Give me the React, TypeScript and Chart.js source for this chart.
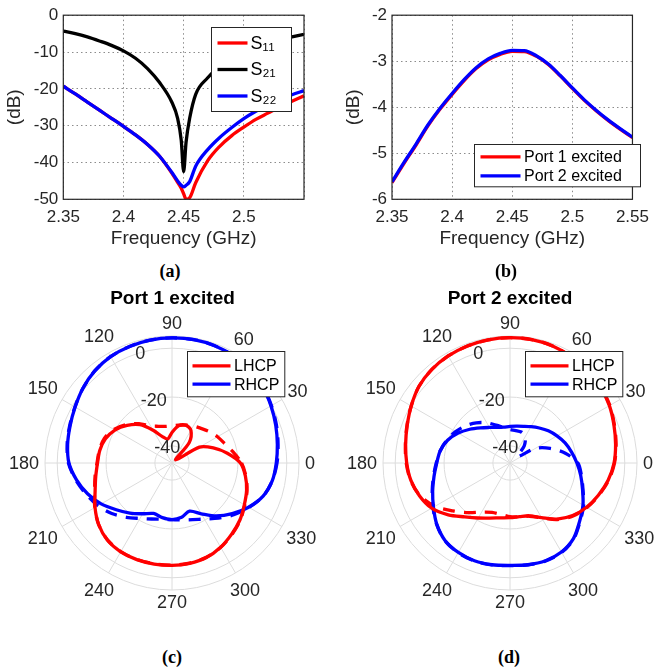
import React, { useEffect, useRef } from 'react';
import { Chart, registerables } from 'chart.js';

Chart.register(...registerables);

const FONT = "'Liberation Sans', Arial, Helvetica, sans-serif";
const TEXT = '#262626';
Chart.defaults.font.family = FONT;

// ---------- (a) S-parameters ----------
const FREQ_A = [2.35, 2.36, 2.37, 2.38, 2.39, 2.4, 2.41, 2.42, 2.43, 2.44, 2.445, 2.448, 2.45, 2.452, 2.455, 2.46, 2.47, 2.48, 2.49, 2.5, 2.51, 2.52, 2.53, 2.54, 2.55];
const S11 = [-19.3, -21.4, -23.6, -25.8, -28.0, -30.2, -32.5, -35.1, -38.3, -42.8, -45.4, -47.0, -48.5, -50.0, -49.6, -45.5, -39.5, -35.6, -32.7, -30.4, -28.3, -26.6, -24.9, -23.4, -21.9];
const S21 = [-4.3, -5.0, -5.9, -7.0, -8.2, -9.7, -11.7, -14.5, -18.3, -23.5, -28.0, -34.0, -42.5, -34.5, -28.0, -21.5, -17.0, -13.8, -11.5, -9.8, -8.5, -7.5, -6.6, -5.9, -5.2];
const S22 = [-19.3, -21.4, -23.6, -25.8, -28.0, -30.2, -32.5, -35.1, -38.3, -42.6, -45.0, -46.2, -46.6, -46.2, -45.2, -41.0, -36.5, -33.2, -30.5, -28.1, -26.1, -24.4, -22.9, -21.6, -20.5];
const A_X_TICKS = [2.35, 2.4, 2.45, 2.5, 2.55];
const A_X_LABELS = ['2.35', '2.4', '2.45', '2.5', ''];
const A_Y_TICKS = [-50, -40, -30, -20, -10, 0];
const A_Y_LABELS = ['-50', '-40', '-30', '-20', '-10', '0'];

// ---------- (b) ----------
const FREQ_B = [2.35, 2.36, 2.37, 2.38, 2.39, 2.4, 2.41, 2.42, 2.43, 2.44, 2.45, 2.46, 2.47, 2.48, 2.49, 2.5, 2.51, 2.52, 2.53, 2.54, 2.55];
const PORT1 = [-5.64, -5.22, -4.82, -4.4, -4.04, -3.72, -3.42, -3.16, -2.97, -2.85, -2.785, -2.79, -2.89, -3.07, -3.32, -3.59, -3.85, -4.08, -4.29, -4.48, -4.66];
const PORT2 = [-5.62, -5.2, -4.8, -4.38, -4.02, -3.7, -3.4, -3.14, -2.95, -2.83, -2.765, -2.77, -2.88, -3.06, -3.31, -3.58, -3.84, -4.07, -4.28, -4.47, -4.65];
const B_X_TICKS = [2.35, 2.4, 2.45, 2.5, 2.55];
const B_X_LABELS = ['2.35', '2.4', '2.45', '2.5', '2.55'];
const B_Y_TICKS = [-6, -5, -4, -3, -2];
const B_Y_LABELS = ['-6', '-5', '-4', '-3', '-2'];

// ---------- (c), (d) polar patterns ----------
const THETA = [0, 10, 20, 30, 40, 50, 60, 70, 80, 90, 100, 110, 120, 130, 140, 150, 160, 170, 180, 190, 200, 210, 220, 230, 240, 250, 260, 270, 280, 290, 300, 310, 320, 330, 340, 350];
const THETA_TICKS = [0, 30, 60, 90, 120, 150, 180, 210, 240, 270, 300, 330];
const R_TICKS = [-40, -20, 0];
const R_MIN = -47;
const R_MAX = 5;

const C_LHCP = [-19, -24, -29, -34, -45, -36, -31.5, -30.5, -31.5, -34.5, -37, -35.5, -31.5, -26.5, -23, -20, -18, -17, -16.5, -15.3, -13.5, -10.6, -7.8, -5.8, -5, -4.9, -5, -5.1, -5.3, -5.8, -7.2, -9, -10.7, -12.8, -14.5, -16.5];
const C_LHCP_DASH = [-18.5, -21.5, -24, -25.5, -27, -28.5, -29.5, -30.5, -31.3, -31.8, -31.8, -31, -29.5, -26, -22.5, -19.5, -17.5, -16.8, -16.3, -15, -13.3, -10.5, -7.8, -5.9, -5.1, -5, -5.1, -5.2, -5.4, -5.9, -7.1, -8.8, -10.5, -12.6, -14.3, -16.3];
const C_RHCP = [-4.3, -3.2, -1.8, -0.2, 1.5, 2.8, 3.6, 4.1, 4.3, 4.2, 4.1, 3.8, 3.3, 2.2, 0.6, -1.2, -2.6, -3.6, -4.8, -7.3, -10.2, -13.5, -17.2, -20.2, -23, -25, -24.3, -23.8, -24.4, -26, -23, -18.7, -14.8, -10.8, -7.3, -5.3];
const C_RHCP_DASH = [-4, -2.9, -1.5, 0, 1.6, 2.8, 3.6, 4.1, 4.3, 4.2, 4.1, 3.8, 3.3, 2.2, 0.6, -1.1, -2.4, -3.4, -4.6, -7, -9.6, -12, -14.8, -18, -20.8, -22.6, -23.6, -23.8, -23.3, -22.3, -20.5, -17.5, -14, -10.6, -7.3, -5.3];

const D_LHCP = [-4.4, -3.1, -1.7, 0, 1.4, 2.6, 3.3, 4, 4.3, 4.3, 4.2, 4, 3.6, 2.9, 1.7, -0.3, -2.2, -3.6, -4.7, -5.8, -7.6, -10, -14, -18.2, -21, -23, -24.2, -24.6, -24.7, -24, -21.2, -17, -13.5, -10.8, -8.5, -6.2];
const D_LHCP_DASH = [-4.2, -2.9, -1.5, 0.2, 1.5, 2.6, 3.3, 4, 4.3, 4.3, 4.2, 4, 3.6, 2.9, 1.7, -0.3, -2.1, -3.5, -4.5, -5.7, -7.8, -11.5, -16.5, -20.5, -23.8, -25.5, -25.6, -25, -24.6, -23.8, -21, -16.8, -13.3, -10.6, -8.3, -6];
const D_RHCP = [-19.6, -21.4, -23, -24.8, -26.5, -28.3, -29.8, -31, -31.7, -32, -32.1, -31.5, -30.2, -28.2, -25.5, -22.5, -19.8, -18, -17, -15.4, -13.3, -10.8, -7.9, -5.6, -4.7, -4.4, -4.7, -5.1, -4.7, -4.4, -4.9, -6.6, -9.8, -12.5, -15.4, -17.6];
const D_RHCP_DASH = [-19.2, -24, -29.5, -35, -43, -38, -34.5, -33.5, -33.5, -33.3, -32.3, -30.5, -28, -25.5, -23.3, -21.3, -19.5, -18, -16.8, -15.2, -13.1, -10.6, -7.8, -5.5, -4.6, -4.3, -4.6, -5, -4.6, -4.3, -4.7, -6.4, -9.6, -12.2, -15.2, -17.3];

const R_LABEL_ANGLE = 106;

// radar goes clockwise from startAngle; reorder so that angles run counter-clockwise
const N = THETA.length;
const toRadar = (arr: number[]) => THETA.map((_, i) => arr[(N - i) % N]);
const RADAR_LABELS = THETA.map((_, i) => String(THETA[(N - i) % N]));

type LegendCfg = {
  x: number; y: number; w: number; h: number;
  rows: number[]; line0: number; line1: number; textX: number;
  font: string; indices: number[]; lw: number;
};

function legendPlugin(cfg: LegendCfg) {
  return {
    id: 'boxLegend',
    afterDraw(chart: any) {
      const { ctx, chartArea } = chart;
      const x = Math.round(chartArea.left + cfg.x) + 0.5;
      const y = Math.round(chartArea.top + cfg.y) + 0.5;
      ctx.save();
      ctx.fillStyle = '#ffffff';
      ctx.fillRect(x, y, cfg.w, cfg.h);
      ctx.strokeStyle = TEXT;
      ctx.lineWidth = 1;
      ctx.setLineDash([]);
      ctx.strokeRect(x, y, cfg.w, cfg.h);
      cfg.indices.forEach((di, k) => {
        const ds = chart.data.datasets[di];
        const cy = y + cfg.rows[k];
        ctx.strokeStyle = ds.borderColor;
        ctx.lineWidth = cfg.lw;
        ctx.beginPath();
        ctx.moveTo(x + cfg.line0, cy);
        ctx.lineTo(x + cfg.line1, cy);
        ctx.stroke();
        ctx.fillStyle = '#000000';
        ctx.font = cfg.font;
        ctx.textAlign = 'left';
        ctx.textBaseline = 'middle';
        ctx.fillText(ds.label, x + cfg.textX, cy + 1);
      });
      ctx.restore();
    },
  };
}

function axesBox() {
  return {
    id: 'axesBox',
    afterDraw(chart: any) {
      const { ctx, chartArea: a } = chart;
      ctx.save();
      ctx.strokeStyle = TEXT;
      ctx.lineWidth = 1.2;
      ctx.strokeRect(a.left, a.top, a.right - a.left, a.bottom - a.top);
      ctx.restore();
    },
  };
}

function polarLabels() {
  return {
    id: 'polarLabels',
    afterDraw(chart: any) {
      const s = chart.scales.r;
      const ctx = chart.ctx;
      ctx.save();
      ctx.font = `18px ${FONT}`;
      ctx.fillStyle = TEXT;
      ctx.textAlign = 'center';
      ctx.textBaseline = 'middle';
      THETA_TICKS.forEach((a) => {
        const k = THETA.indexOf(a);
        const idx = (N - k) % N;
        const label = String(a);
        const w = ctx.measureText(label).width;
        const rad = (a * Math.PI) / 180;
        const d = s.drawingArea + 6 + Math.abs(Math.cos(rad)) * w / 2 + Math.abs(Math.sin(rad)) * 6.5;
        const p = s.getPointPosition(idx, d);
        ctx.fillText(label, p.x, p.y + 1);
      });
      const ang = (R_LABEL_ANGLE * Math.PI) / 180;
      R_TICKS.forEach((v) => {
        const d = s.getDistanceFromCenterForValue(v);
        ctx.fillText(String(v), s.xCenter + Math.cos(ang) * d, s.yCenter - Math.sin(ang) * d + 1);
      });
      ctx.restore();
    },
  };
}

function cartesian(opts: {
  datasets: any[]; xTicks: number[]; xLabels: string[]; yTicks: number[]; yLabels: string[];
  yMin: number; yMax: number; yWidth: number; yTitlePad: number; rightPad: number; legend: LegendCfg;
}) {
  return {
    type: 'line',
    data: { datasets: opts.datasets },
    options: {
      animation: false,
      responsive: false,
      events: [],
      layout: { padding: { left: 0, right: opts.rightPad, top: 14, bottom: 0 } },
      elements: { point: { radius: 0 } },
      plugins: { legend: { display: false }, tooltip: { enabled: false } },
      scales: {
        x: {
          type: 'linear',
          min: opts.xTicks[0],
          max: opts.xTicks[opts.xTicks.length - 1],
          afterBuildTicks: (s: any) => { s.ticks = opts.xTicks.map((v) => ({ value: v })); },
          afterFit: (s: any) => { s.height = 52.7; },
          ticks: {
            callback: (_v: any, i: number) => opts.xLabels[i],
            color: TEXT, font: { size: 17, family: FONT }, padding: 8, maxRotation: 0, autoSkip: false,
          },
          grid: { color: '#8c8c8c', lineWidth: 1, drawTicks: false },
          border: { display: false, dash: [1.5, 3] },
          title: { display: true, text: 'Frequency (GHz)', color: TEXT, font: { size: 19, family: FONT }, padding: { top: 0, bottom: 2 } },
        },
        y: {
          type: 'linear',
          min: opts.yMin,
          max: opts.yMax,
          afterBuildTicks: (s: any) => { s.ticks = opts.yTicks.map((v) => ({ value: v })); },
          afterFit: (s: any) => { s.width = opts.yWidth; },
          ticks: {
            callback: (_v: any, i: number) => opts.yLabels[i],
            color: TEXT, font: { size: 17, family: FONT }, padding: 5, autoSkip: false,
          },
          grid: { color: '#8c8c8c', lineWidth: 1, drawTicks: false },
          border: { display: false, dash: [1.5, 3] },
          title: { display: true, text: '(dB)', color: TEXT, font: { size: 19, family: FONT }, padding: { top: opts.yTitlePad, bottom: 0 } },
        },
      },
    },
    plugins: [axesBox(), legendPlugin(opts.legend)],
  };
}

const lineDs = (label: string, xs: number[], ys: number[], color: string, order: number) => ({
  label,
  data: xs.map((x, i) => ({ x, y: ys[i] })),
  borderColor: color,
  backgroundColor: color,
  borderWidth: 3.3,
  cubicInterpolationMode: 'monotone',
  fill: false,
  order,
});

const makeA = () =>
  cartesian({
    datasets: [
      lineDs('S₁₁', FREQ_A, S11, '#ff0000', 2),
      lineDs('S₂₁', FREQ_A, S21, '#000000', 1),
      lineDs('S₂₂', FREQ_A, S22, '#0000ff', 0),
    ],
    xTicks: A_X_TICKS, xLabels: A_X_LABELS, yTicks: A_Y_TICKS, yLabels: A_Y_LABELS,
    yMin: -50, yMax: 0, yWidth: 63.3, yTitlePad: 3.6, rightPad: 26,
    legend: { x: 147.4, y: 12, w: 80, h: 84, rows: [15.5, 42, 68.5], line0: 6, line1: 36, textX: 39, font: `18px ${FONT}`, indices: [0, 1, 2], lw: 3.3 },
  });

const makeB = () =>
  cartesian({
    datasets: [
      lineDs('Port 1 excited', FREQ_B, PORT1, '#ff0000', 1),
      lineDs('Port 2 excited', FREQ_B, PORT2, '#0000ff', 0),
    ],
    xTicks: B_X_TICKS, xLabels: B_X_LABELS, yTicks: B_Y_TICKS, yLabels: B_Y_LABELS,
    yMin: -6, yMax: -2, yWidth: 62, yTitlePad: 11.9, rightPad: 16.3,
    legend: { x: 82, y: 128.7, w: 166, h: 42.3, rows: [12.3, 31.3], line0: 6, line1: 46, textX: 49.5, font: `16px ${FONT}`, indices: [0, 1], lw: 3.3 },
  });

const radarDs = (label: string, arr: number[], color: string, dashed: boolean) => ({
  label,
  data: toRadar(arr),
  borderColor: color,
  backgroundColor: color,
  borderWidth: 3.3,
  borderDash: dashed ? [12, 9] : [],
  fill: false,
  tension: 0.3,
  pointRadius: 0,
});

const makePolar = (lh: number[], lhd: number[], rh: number[], rhd: number[], padL: number, padR: number) => ({
  type: 'radar',
  data: {
    labels: RADAR_LABELS,
    datasets: [
      radarDs('LHCP', lh, '#ff0000', false),
      radarDs('RHCP', rh, '#0000ff', false),
      radarDs('LHCP', lhd, '#ff0000', true),
      radarDs('RHCP', rhd, '#0000ff', true),
    ],
  },
  options: {
    animation: false,
    responsive: false,
    events: [],
    layout: { padding: { left: padL, right: padR, top: 43, bottom: 43 } },
    plugins: { legend: { display: false }, tooltip: { enabled: false } },
    scales: {
      r: {
        min: R_MIN,
        max: R_MAX,
        startAngle: 90,
        ticks: { display: false },
        pointLabels: { display: false },
        grid: { circular: true, color: '#dcdcdc', lineWidth: 1 },
        angleLines: { color: '#dcdcdc', lineWidth: (c: any) => (c.index % 3 === 0 ? 1 : 0) },
        afterBuildTicks: (s: any) => { s.ticks = [...R_TICKS, R_MAX].map((v) => ({ value: v })); },
      },
    },
  },
  plugins: [
    polarLabels(),
    legendPlugin({ x: 141.5, y: 14.7, w: 97.3, h: 45.3, rows: [14.3, 32.6], line0: 5, line1: 43, textX: 46.5, font: `16px ${FONT}`, indices: [0, 1], lw: 3.3 }),
  ],
});

function ChartCanvas(props: { make: () => any; left: number; top: number; width: number; height: number }) {
  const ref = useRef<HTMLCanvasElement>(null);
  useEffect(() => {
    const chart = new Chart(ref.current as HTMLCanvasElement, props.make());
    return () => chart.destroy();
  }, []);
  return (
    <canvas
      ref={ref}
      width={props.width}
      height={props.height}
      style={{ position: 'absolute', left: props.left, top: props.top, width: props.width, height: props.height }}
    />
  );
}

const caption = (x: number, y: number): React.CSSProperties => ({
  position: 'absolute', left: x, top: y, transform: 'translate(-50%, -50%)',
  font: "bold 18px 'Liberation Serif', 'Times New Roman', serif", color: '#000', whiteSpace: 'nowrap', lineHeight: 1,
});
const title = (x: number, y: number): React.CSSProperties => ({
  position: 'absolute', left: x, top: y, transform: 'translate(-50%, -50%)',
  font: `bold 19px ${FONT}`, color: '#000', whiteSpace: 'nowrap', lineHeight: 1,
});

export default function App() {
  return (
    <div style={{ position: 'absolute', left: 0, top: 0, width: 657, height: 667, background: '#ffffff', overflow: 'hidden' }}>
      <ChartCanvas make={makeA} left={0} top={0} width={330} height={252} />
      <ChartCanvas make={makeB} left={330} top={0} width={327} height={252} />
      <ChartCanvas make={() => makePolar(C_LHCP, C_LHCP_DASH, C_RHCP, C_RHCP_DASH, 45, 45)} left={0} top={293} width={344} height={340} />
      <ChartCanvas make={() => makePolar(D_LHCP, D_LHCP_DASH, D_RHCP, D_RHCP_DASH, 40, 20)} left={343} top={293} width={314} height={340} />
      <div style={caption(170, 271)}>(a)</div>
      <div style={caption(506, 271)}>(b)</div>
      <div style={title(172.5, 297)}>Port 1 excited</div>
      <div style={title(510, 297)}>Port 2 excited</div>
      <div style={caption(172, 657)}>(c)</div>
      <div style={caption(509, 657)}>(d)</div>
    </div>
  );
}
